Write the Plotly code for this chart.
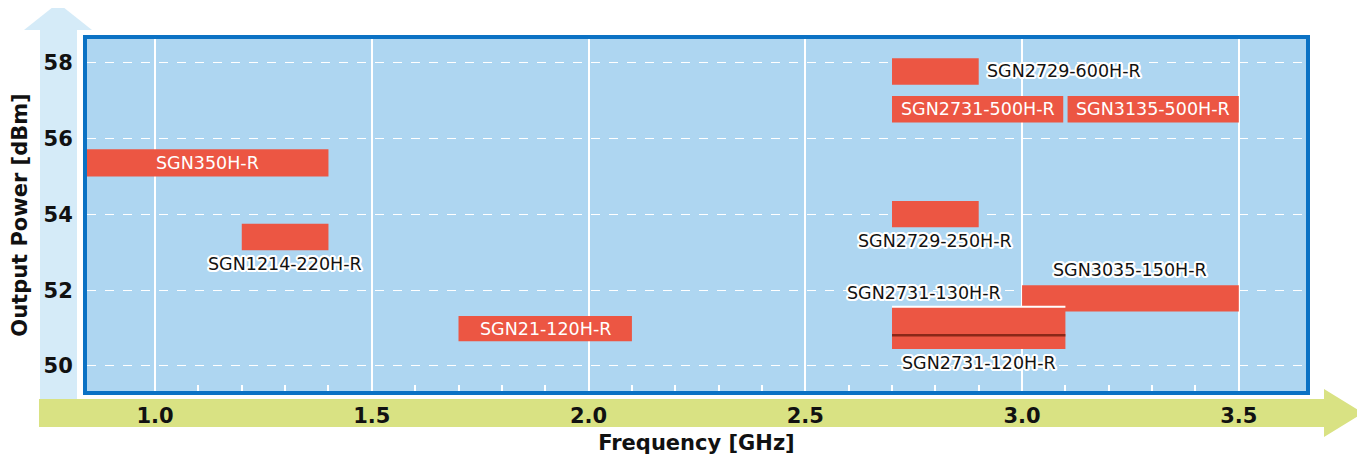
import plotly.graph_objects as go

# ---------------- data ----------------
products = ["SGN350H-R", "SGN1214-220H-R", "SGN21-120H-R", "SGN2729-600H-R",
            "SGN2731-500H-R", "SGN3135-500H-R", "SGN2729-250H-R", "SGN3035-150H-R",
            "SGN2731-130H-R", "SGN2731-120H-R"]
freq_start = [0.80, 1.20, 1.70, 2.70, 2.70, 3.105, 2.70, 3.00, 2.70, 2.70]   # GHz
freq_end   = [1.40, 1.40, 2.10, 2.90, 3.095, 3.50, 2.90, 3.50, 3.10, 3.10]  # GHz
pow_low    = [55.00, 53.05, 50.65, 57.42, 56.42, 56.42, 53.66, 51.44, 50.81, 50.45]  # dBm
pow_high   = [55.72, 53.75, 51.32, 58.12, 57.12, 57.12, 54.35, 52.13, 51.56, 50.81]  # dBm
label_mode = ["inside", "below", "inside", "right", "inside", "inside",
              "below", "above", "above_left", "below"]

x_ticks = [1.0, 1.5, 2.0, 2.5, 3.0, 3.5]
x_tick_text = ["1.0", "1.5", "2.0", "2.5", "3.0", "3.5"]
y_ticks = [50, 52, 54, 56, 58]
y_tick_text = ["50", "52", "54", "56", "58"]
x_minor = [round(1.0 + 0.1 * i, 1) for i in range(26) if i % 5]

# ---------------- style ----------------
BAR = "#EC5643"
BG = "#AED6F1"
FRAME = "#0B72C4"
X_RANGE = [0.843, 3.655]
Y_RANGE = [49.34, 58.625]
OFF = 8                      # page body margin in the browser
W, H = 1365 - OFF, 455 - OFF
# plot-area edges in page pixels
PL, PR, PT, PB = 87, 1306, 39, 391
L, R, T, B = PL - OFF, PR - OFF, PT - OFF, PB - OFF
LABEL_FONT = "DejaVu Sans"
AX_FONT = "DejaVu Sans"
LABEL_SIZE = 17.5

fig = go.Figure()

for i, name in enumerate(products):
    fig.add_trace(go.Bar(
        orientation="h",
        y=[(pow_low[i] + pow_high[i]) / 2],
        x=[freq_end[i] - freq_start[i]],
        base=[freq_start[i]],
        width=[pow_high[i] - pow_low[i]],
        marker=dict(color=BAR, line=dict(width=0)),
        name=name, showlegend=False, hoverinfo="name",
    ))

# divider and top edge on the stacked SGN2731 pair
i130 = products.index("SGN2731-130H-R")
i120 = products.index("SGN2731-120H-R")
fig.add_shape(type="line", xref="x", yref="y",
              x0=freq_start[i120], x1=freq_end[i120], y0=pow_high[i120], y1=pow_high[i120],
              line=dict(color="#8A2818", width=2.5))
fig.add_shape(type="line", xref="x", yref="y",
              x0=freq_start[i130], x1=freq_end[i130], y0=pow_high[i130], y1=pow_high[i130],
              line=dict(color="white", width=2))

outline = ", ".join(f"{dx}px {dy}px 0 #fff" for dx in (-2, -1, 0, 1, 2)
                    for dy in (-2, -1, 0, 1, 2) if (dx, dy) != (0, 0) and abs(dx) + abs(dy) <= 3)

for i, name in enumerate(products):
    x0 = max(freq_start[i], X_RANGE[0])
    xc = (x0 + freq_end[i]) / 2
    yc = (pow_low[i] + pow_high[i]) / 2
    mode = label_mode[i]
    if mode == "inside":
        fig.add_annotation(x=xc, y=yc, text=name, showarrow=False,
                           font=dict(family=LABEL_FONT, size=LABEL_SIZE, color="white"))
    else:
        f = dict(family=LABEL_FONT, size=LABEL_SIZE, color="#111", shadow=outline)
        if mode == "below":
            fig.add_annotation(x=xc, y=pow_low[i], text=name, showarrow=False, yanchor="top",
                               yshift=-2, font=f)
        elif mode == "right":
            fig.add_annotation(x=freq_end[i], y=yc, text=name, showarrow=False, xanchor="left",
                               xshift=6, font=f)
        elif mode == "above":
            fig.add_annotation(x=xc, y=pow_high[i], text=name, showarrow=False, yanchor="bottom",
                               yshift=3, font=f)
        elif mode == "above_left":
            fig.add_annotation(x=xc, y=pow_high[i], text=name, showarrow=False, yanchor="bottom",
                               yshift=2, xshift=-55, font=f)

# ---------------- decorative arrows (paper coords, given in page pixels) ----------------
def px(xp):
    return (xp - PL) / (PR - PL)

def py(yp):
    return (PB - yp) / (PB - PT)

def path(points):
    return "M " + " L ".join(f"{px(a):.5f},{py(b):.5f}" for a, b in points) + " Z"

fig.add_shape(type="path", xref="paper", yref="paper", layer="below",
              path=path([(40, 400), (40, 30), (24, 30), (58, 3), (92, 30), (77, 30), (77, 400)]),
              fillcolor="#D5EBF8", line=dict(width=0))
fig.add_shape(type="path", xref="paper", yref="paper", layer="below",
              path=path([(39, 399), (1324, 399), (1324, 389), (1363, 413), (1324, 437),
                         (1324, 427), (39, 427)]),
              fillcolor="#D9E283", line=dict(width=0))

fig.update_layout(
    width=W, height=H,
    margin=dict(l=L, r=W - R, t=T, b=H - B, pad=0, autoexpand=False),
    paper_bgcolor="white", plot_bgcolor=BG,
    barmode="overlay", showlegend=False,
    xaxis=dict(range=X_RANGE, tickvals=x_ticks, ticktext=x_tick_text, automargin=False,
               showgrid=True, gridcolor="white", gridwidth=1.5, zeroline=False,
               showline=True, mirror=True, linecolor=FRAME, linewidth=4,
               ticks="", ticklabelstandoff=3,
               tickfont=dict(family=AX_FONT, size=21, color="#111", weight="bold"),
               minor=dict(tickvals=x_minor, ticks="inside", ticklen=6, tickcolor="white",
                          tickwidth=1.5, showgrid=False),
               title=dict(text="Frequency [GHz]", standoff=11,
                          font=dict(family=AX_FONT, size=21, color="#111", weight="bold"))),
    yaxis=dict(range=Y_RANGE, tickvals=y_ticks, ticktext=y_tick_text, automargin=False,
               showgrid=True, gridcolor="white", gridwidth=1, griddash="dash", zeroline=False,
               showline=True, mirror=True, linecolor=FRAME, linewidth=4,
               ticks="", ticklabelstandoff=6,
               tickfont=dict(family=AX_FONT, size=21, color="#111", weight="bold"),
               title=dict(text="Output Power [dBm]", standoff=24,
                          font=dict(family=AX_FONT, size=21, color="#111", weight="bold"))),
)

fig.write_html("out.html")
